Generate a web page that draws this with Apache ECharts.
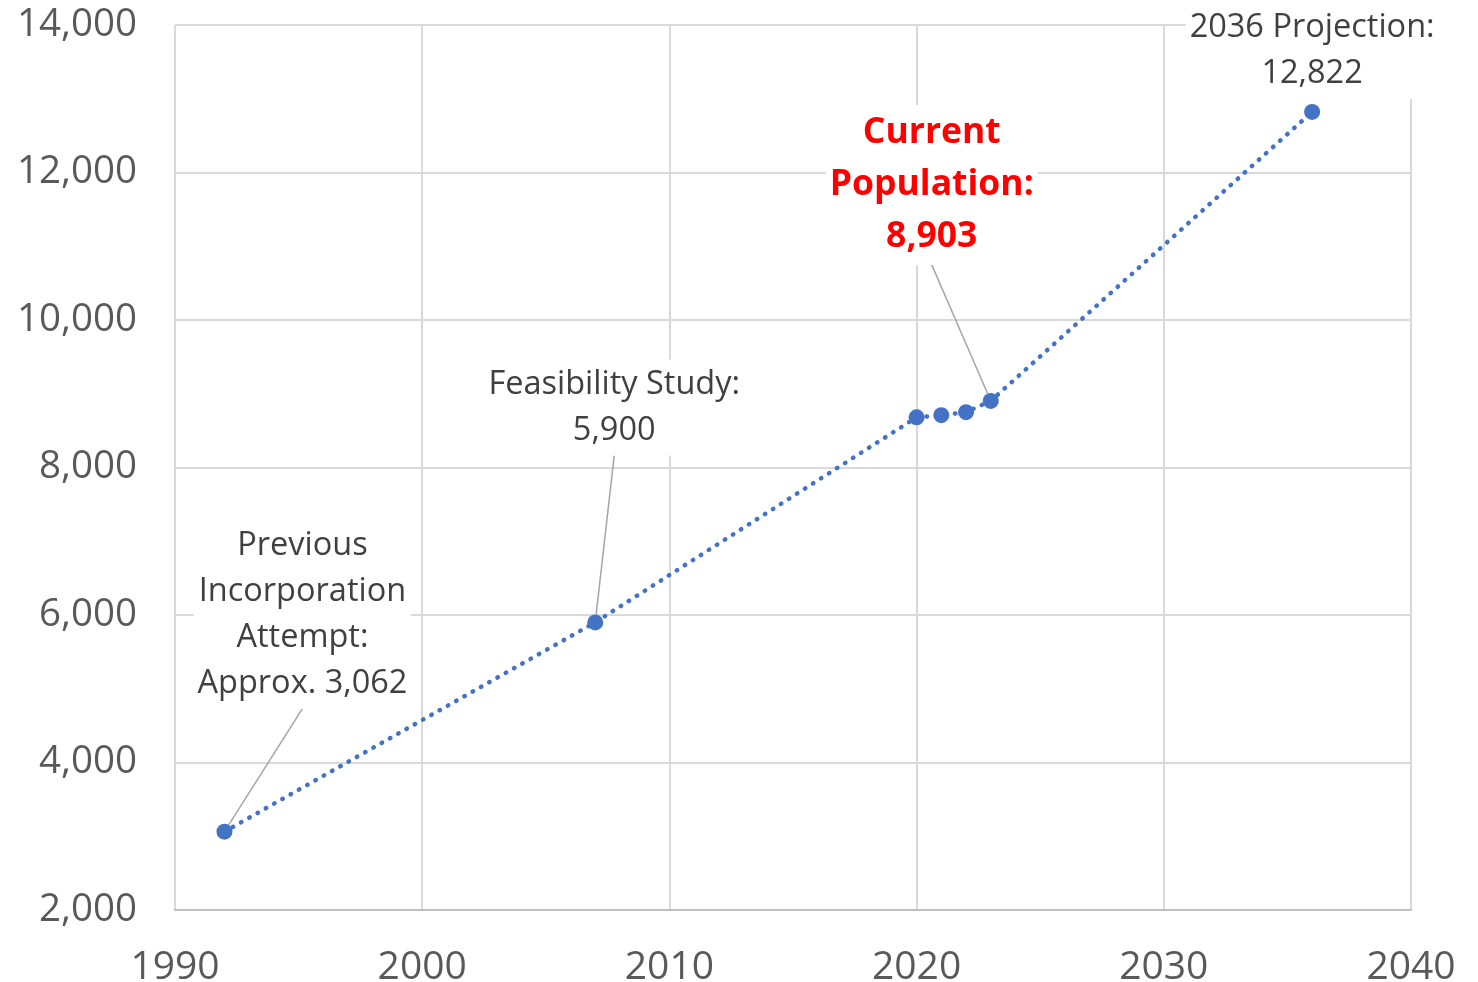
<!DOCTYPE html>
<html><head><meta charset="utf-8">
<script src="https://cdn.jsdelivr.net/npm/echarts@6/dist/echarts.min.js"></script>
<style>html,body{margin:0;padding:0;background:#fff}#c{width:1478px;height:982px}</style>
</head><body><div id="c"></div>
<script>
const years = [1992, 2007, 2020, 2021, 2022, 2023, 2036];
const population = [3062, 5900, 8680, 8710, 8750, 8903, 12822];
const annotations = ['Previous\nIncorporation\nAttempt:\nApprox. 3,062', 'Feasibility Study:\n5,900', '', '', '', 'Current\nPopulation:\n8,903', '2036 Projection:\n12,822'];
const highlighted = [false, false, false, false, false, true, false];
const xTicks = [1990, 2000, 2010, 2020, 2030, 2040];
const yTicks = [2000, 4000, 6000, 8000, 10000, 12000, 14000];

// label offsets (px) relative to the point
const labelOffsets = [[78, -217], [19, -215], [0, 0], [0, 0], [0, 0], [-59, -216], [0, -61]];

const FONT = '"Open Sans", "Liberation Sans", sans-serif';
const fmt = v => v.toLocaleString('en-US');

const data = years.map((y, i) => {
  const item = { value: [y, population[i]] };
  if (annotations[i]) {
    item.label = highlighted[i] ? {
      show: true, formatter: annotations[i], color: '#FF0000', fontWeight: 'bold',
      fontSize: 35.5, lineHeight: 52, fontFamily: FONT
    } : {
      show: true, formatter: annotations[i]
    };
    item.labelLine = { show: i !== 6 };
  } else {
    item.label = { show: false };
  }
  return item;
});

const chart = echarts.init(document.getElementById('c'));
chart.setOption({
  animation: false,
  backgroundColor: '#fff',
  grid: { left: 175, right: 67, top: 25, bottom: 72, containLabel: false, outerBoundsMode: 'none' },
  xAxis: {
    type: 'value', min: xTicks[0], max: xTicks[xTicks.length - 1], interval: 10,
    axisLine: { show: true, lineStyle: { color: '#bfbfbf', width: 2 } },
    axisTick: { show: false },
    splitLine: { show: true, lineStyle: { color: '#d9d9d9', width: 2 } },
    axisLabel: { color: '#595959', fontSize: 39, fontFamily: FONT, margin: 38, formatter: v => String(v) }
  },
  yAxis: {
    type: 'value', min: yTicks[0], max: yTicks[yTicks.length - 1], interval: 2000,
    axisLine: { show: false },
    axisTick: { show: false },
    splitLine: { show: true, lineStyle: { color: '#d9d9d9', width: 2 } },
    axisLabel: { color: '#595959', fontSize: 38.5, fontFamily: FONT, margin: 38, formatter: v => fmt(v) }
  },
  series: [{
    type: 'line',
    data: data,
    symbol: 'circle',
    symbolSize: 16,
    itemStyle: { color: '#4472C4' },
    lineStyle: { color: '#4472C4', width: 4.5, type: [0.5, 9], cap: 'round' },
    label: {
      position: 'inside', align: 'center', verticalAlign: 'middle',
      color: '#404040', fontSize: 32.5, lineHeight: 46, fontFamily: FONT,
      backgroundColor: '#fff', padding: [2, 4]
    },
    labelLine: { show: true, lineStyle: { color: '#a6a6a6', width: 1.5 } },
    labelLayout: params => {
      const o = labelOffsets[params.dataIndex];
      return { dx: o[0], dy: o[1] };
    },
    z: 3
  }]
});
</script></body></html>
